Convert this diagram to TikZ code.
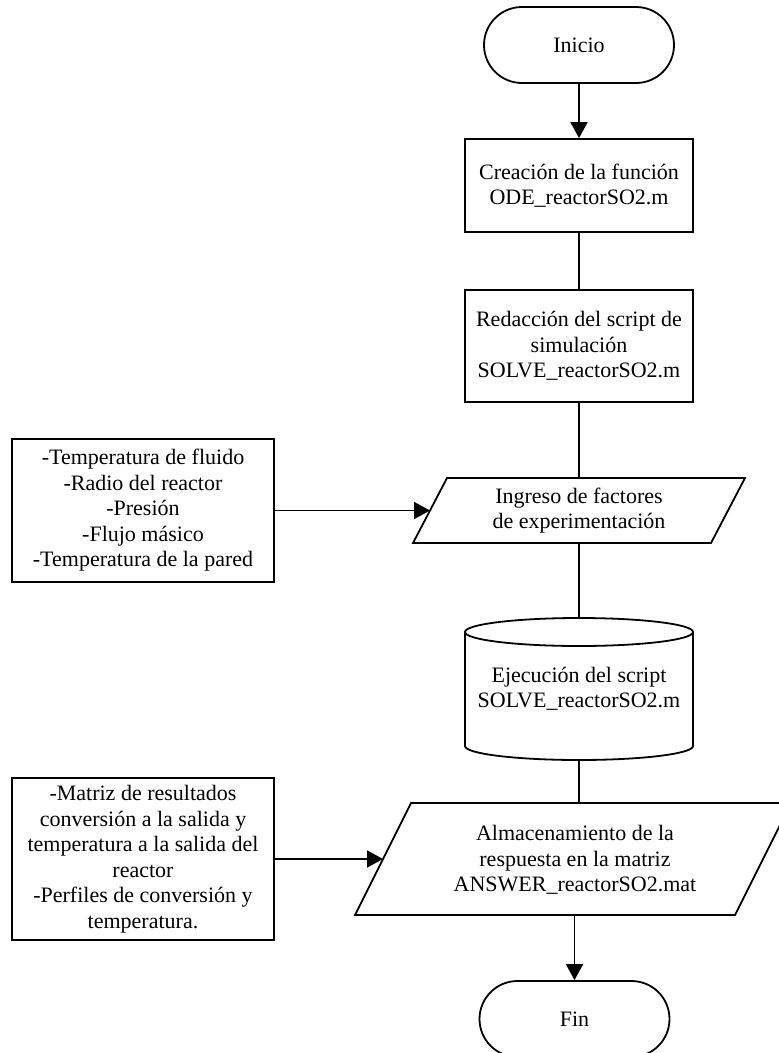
\documentclass[tikz,border=0pt]{standalone}
\usepackage{fontspec}
\setmainfont{Liberation Serif}
\usetikzlibrary{arrows.meta}
\begin{document}
\begin{tikzpicture}[x=1pt,y=-1pt,
  line width=1.8pt,
  every node/.style={font=\fontsize{22}{25.5}\selectfont, align=center, inner sep=0pt},
  proc/.style={draw, minimum width=228pt},
  term/.style={draw, rounded corners=38pt, minimum width=190pt, minimum height=76pt},
  side/.style={draw, minimum width=262pt},
  arr/.style={-{Triangle[length=16pt,width=17pt]}}]
\useasboundingbox (0,0) rectangle (779,1053);

% main column
\node[term] (inicio) at (579,45) {Inicio};
\node[proc, minimum height=93pt] (b1) at (579,185.5) {Creación de la función\\ODE\_reactorSO2.m};
\node[proc, minimum height=112pt] (b2) at (579,346) {Redacción del script de\\simulación\\SOLVE\_reactorSO2.m};

% input parallelogram 1
\coordinate (p1a) at (447,478);
\coordinate (p1b) at (745,478);
\coordinate (p1c) at (711,543);
\coordinate (p1d) at (413,543);
\coordinate (p1t) at (579,478);
\coordinate (p1bot) at (579,543);
\coordinate (p1l) at (430,510.5);
\draw (p1a) -- (p1b) -- (p1c) -- (p1d) -- cycle;
\node (in1) at (579,510.5) {Ingreso de factores\\de experimentación};

% cylinder
\coordinate (cyltop) at (579,618);
\coordinate (cylbot) at (579,760);
\draw (579,632) ellipse [x radius=114, y radius=14];
\draw (465,632) -- (465,746) arc[start angle=180, end angle=0, x radius=114, y radius=14] -- (693,632);
\node (cyl) at (579,689) {Ejecución del script\\SOLVE\_reactorSO2.m};

% output parallelogram 2
\coordinate (p2a) at (411,803);
\coordinate (p2b) at (791,803);
\coordinate (p2c) at (735,915);
\coordinate (p2d) at (355,915);
\coordinate (p2t) at (579,803);
\coordinate (p2bot) at (574.5,915);
\coordinate (p2l) at (383,859);
\draw (p2a) -- (p2b) -- (p2c) -- (p2d) -- cycle;
\node (out) at (575,860) {Almacenamiento de la\\respuesta en la matriz\\ANSWER\_reactorSO2.mat};

\node[term] (fin) at (574.5,1019) {Fin};

% side boxes
\node[side, minimum height=143pt] (lb1) at (143,510.5) {-Temperatura de fluido\\-Radio del reactor\\-Presión\\-Flujo másico\\-Temperatura de la pared};
\node[side, minimum height=162pt] (lb2) at (143,859) {-Matriz de resultados\\conversión a la salida y\\temperatura a la salida del\\reactor\\-Perfiles de conversión y\\temperatura.};

% connectors
\draw[arr] (inicio) -- (b1);
\draw (b1) -- (b2);
\draw (b2) -- (p1t);
\draw (p1bot) -- (cyltop);
\draw (cylbot) -- (p2t);
\draw[arr] (p2bot) -- (fin);
\draw[arr] (lb1.east) -- (p1l);
\draw[arr] (lb2.east) -- (p2l);
\end{tikzpicture}
\end{document}
